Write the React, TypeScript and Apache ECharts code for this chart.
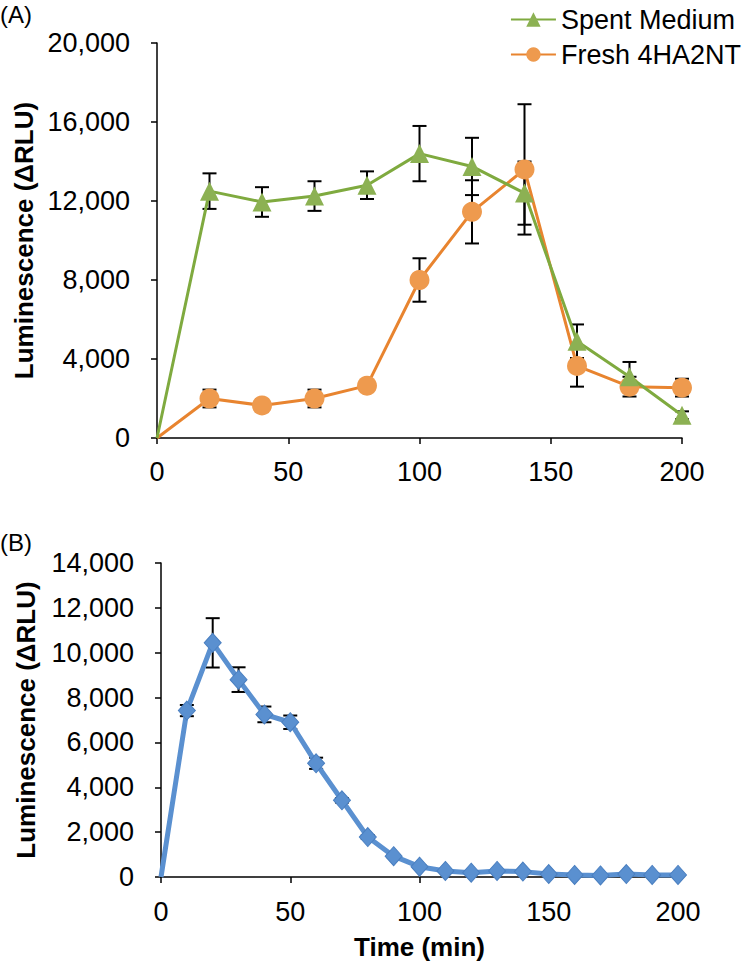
import React, { useEffect, useRef } from "react";
import * as echarts from "echarts";

// Panel A
const timeA = [0, 20, 40, 60, 80, 100, 120, 140, 160, 180, 200];
const spentMedium = [0, 12500, 11950, 12250, 12800, 14400, 13750, 12400, 4900, 3100, 1150];
const spentErr = [0, 900, 750, 750, 700, 1400, 1450, 1600, 850, 750, 200];
const fresh4HA2NT = [0, 2000, 1650, 2000, 2650, 8000, 11450, 13600, 3650, 2600, 2550];
const freshErr = [0, 450, 300, 450, 150, 1100, 1600, 3300, 1050, 500, 450];

// Panel B
const timeB = [0, 10, 20, 30, 40, 50, 60, 70, 80, 90, 100, 110, 120, 130, 140, 150, 160, 170, 180, 190, 200];
const lumB = [0, 7420, 10440, 8800, 7250, 6900, 5070, 3420, 1780, 930, 460, 270, 190, 270, 240, 130, 90, 70, 130, 90, 90];
const errB = [0, 250, 1100, 550, 350, 300, 250, 100, 80, 50, 50, 0, 0, 0, 0, 0, 0, 0, 0, 0, 0];

const FONT = "Liberation Sans, Arial, sans-serif";
const GREEN_LINE = "#7FAA3F";
const GREEN_MARK = "#8CB153";
const ORANGE_LINE = "#E8842F";
const ORANGE_MARK = "#EE9A4E";
const BLUE = "#5A90D0";

function errData(xs: number[], ys: number[], es: number[]) {
  const out: number[][] = [];
  xs.forEach((x, i) => {
    if (es[i] > 0) out.push([x, ys[i] - es[i], ys[i] + es[i]]);
  });
  return out;
}

function lineData(xs: number[], ys: number[]) {
  return xs.map((x, i) =>
    i === 0 ? { value: [x, ys[i]], symbol: "none" } : { value: [x, ys[i]] }
  );
}

const renderErr = (params: any, api: any) => {
  const x = api.value(0);
  const lo = api.coord([x, api.value(1)]);
  const hi = api.coord([x, api.value(2)]);
  const w = 7;
  const style = { stroke: "#000", lineWidth: 2 };
  return {
    type: "group",
    children: [
      { type: "line", shape: { x1: lo[0], y1: lo[1], x2: hi[0], y2: hi[1] }, style },
      { type: "line", shape: { x1: lo[0] - w, y1: lo[1], x2: lo[0] + w, y2: lo[1] }, style },
      { type: "line", shape: { x1: hi[0] - w, y1: hi[1], x2: hi[0] + w, y2: hi[1] }, style },
    ],
  };
};

const fmt = (v: number) => v.toLocaleString("en-US");

function axisCommon() {
  return {
    axisLine: { show: true, lineStyle: { color: "#000", width: 1.5 } },
    axisTick: { show: true, length: 6, lineStyle: { color: "#000", width: 1.5 } },
    splitLine: { show: false },
  };
}

export default function App() {
  const ref = useRef<HTMLDivElement>(null);
  useEffect(() => {
    if (!ref.current) return;
    const chart = echarts.init(ref.current, undefined, { renderer: "svg" });
    const yName = "Luminescence (\u0394RLU)";
    chart.setOption({
      animation: false,
      backgroundColor: "#fff",
      textStyle: { fontFamily: FONT },
      grid: [
        { left: 157, right: 68, top: 43, height: 395 },
        { left: 161, right: 72, top: 563, height: 314 },
      ],
      legend: {
        data: ["Spent Medium", "Fresh 4HA2NT"],
        orient: "vertical",
        right: 4,
        top: 1,
        itemWidth: 45,
        itemHeight: 18,
        itemGap: 8,
        textStyle: { fontSize: 27, color: "#000", fontFamily: FONT },
      },
      graphic: [
        { type: "text", left: 0, top: 2, style: { text: "(A)", fontSize: 24, fontFamily: FONT, fill: "#000" } },
        { type: "text", left: 0, top: 530, style: { text: "(B)", fontSize: 24, fontFamily: FONT, fill: "#000" } },
      ],
      xAxis: [
        {
          gridIndex: 0, type: "value", min: 0, max: 200, interval: 50,
          ...axisCommon(),
          axisLabel: { fontSize: 27, color: "#000", margin: 20, fontFamily: FONT },
        },
        {
          gridIndex: 1, type: "value", min: 0, max: 200, interval: 50,
          ...axisCommon(),
          axisLabel: { fontSize: 27, color: "#000", margin: 21, fontFamily: FONT },
          name: "Time (min)", nameLocation: "middle", nameGap: 57,
          nameTextStyle: { fontSize: 26, fontWeight: "bold", color: "#000", fontFamily: FONT },
        },
      ],
      yAxis: [
        {
          gridIndex: 0, type: "value", min: 0, max: 20000, interval: 4000,
          ...axisCommon(),
          axisLabel: { fontSize: 27, color: "#000", margin: 27, formatter: fmt, fontFamily: FONT },
          name: yName, nameLocation: "middle", nameRotate: 90, nameGap: 118,
          nameTextStyle: { fontSize: 26, fontWeight: "bold", color: "#000", fontFamily: FONT },
        },
        {
          gridIndex: 1, type: "value", min: 0, max: 14000, interval: 2000,
          ...axisCommon(),
          axisLabel: { fontSize: 27, color: "#000", margin: 27, formatter: fmt, fontFamily: FONT },
          name: yName, nameLocation: "middle", nameRotate: 90, nameGap: 122,
          nameTextStyle: { fontSize: 26, fontWeight: "bold", color: "#000", fontFamily: FONT },
        },
      ],
      series: [
        {
          type: "custom", xAxisIndex: 0, yAxisIndex: 0, z: 1,
          renderItem: renderErr, encode: { x: 0, y: [1, 2] },
          data: errData(timeA, spentMedium, spentErr), silent: true,
        },
        {
          type: "custom", xAxisIndex: 0, yAxisIndex: 0, z: 1,
          renderItem: renderErr, encode: { x: 0, y: [1, 2] },
          data: errData(timeA, fresh4HA2NT, freshErr), silent: true,
        },
        {
          name: "Spent Medium", type: "line", xAxisIndex: 0, yAxisIndex: 0, z: 3,
          data: lineData(timeA, spentMedium),
          symbol: "triangle", symbolSize: 19, showAllSymbol: true,
          lineStyle: { color: GREEN_LINE, width: 3 },
          itemStyle: { color: GREEN_MARK },
        },
        {
          name: "Fresh 4HA2NT", type: "line", xAxisIndex: 0, yAxisIndex: 0, z: 2,
          data: lineData(timeA, fresh4HA2NT),
          symbol: "circle", symbolSize: 20, showAllSymbol: true,
          lineStyle: { color: ORANGE_LINE, width: 3 },
          itemStyle: { color: ORANGE_MARK },
        },
        {
          type: "custom", xAxisIndex: 1, yAxisIndex: 1, z: 1,
          renderItem: renderErr, encode: { x: 0, y: [1, 2] },
          data: errData(timeB, lumB, errB), silent: true,
        },
        {
          name: "B", type: "line", xAxisIndex: 1, yAxisIndex: 1, z: 2,
          data: lineData(timeB, lumB),
          symbol: "diamond", symbolSize: [17, 19], showAllSymbol: true,
          lineStyle: { color: BLUE, width: 5 },
          itemStyle: { color: BLUE, borderColor: "#4A7FC0", borderWidth: 1 },
        },
      ],
    });
    return () => chart.dispose();
  }, []);
  return (
    <div
      ref={ref}
      style={{ position: "fixed", left: 0, top: 0, width: 750, height: 963, background: "#fff" }}
    />
  );
}
